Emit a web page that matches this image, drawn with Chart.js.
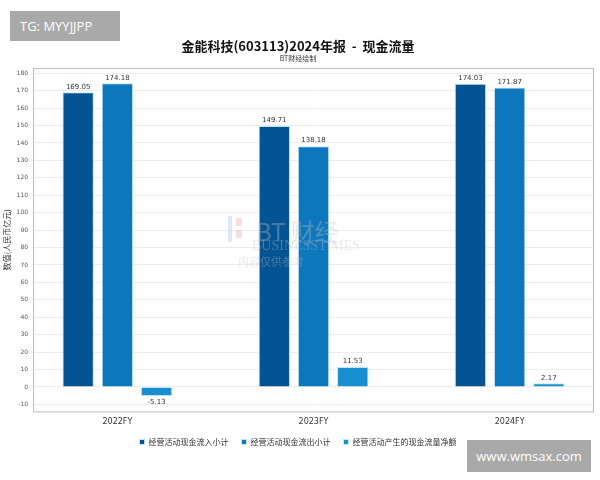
<!DOCTYPE html>
<html>
<head>
<meta charset="utf-8">
<script src="https://cdn.jsdelivr.net/npm/chart.js@4.4.1/dist/chart.umd.min.js"></script>
<style>
  html, body { margin: 0; padding: 0; background: #fff; }
  #wrap { position: relative; width: 600px; height: 480px; }
  .tag { position: absolute; background: #a9a9a9; color: #fff; font-family: "Open Sans", sans-serif; }
  #tg { left: 10px; top: 11px; width: 110px; height: 30px; font-size: 13px; line-height: 30px; padding-left: 10px; box-sizing: border-box; }
  #site { left: 467px; top: 440px; width: 124px; height: 32px; font-size: 13px; line-height: 32px; text-align: center; }
</style>
</head>
<body>
<div id="wrap">
  <canvas id="cashChart" width="600" height="480"></canvas>
  <div id="tg" class="tag">TG: MYYJJPP</div>
  <div id="site" class="tag">www.wmsax.com</div>
</div>
<script>
const years = ['2022FY', '2023FY', '2024FY'];
const inflow = [169.05, 149.71, 174.03];
const outflow = [174.18, 138.18, 171.87];
const netFlow = [-5.13, 11.53, 2.17];
const seriesNames = ['经营活动现金流入小计', '经营活动现金流出小计', '经营活动产生的现金流量净额'];
const yTicks = [-10, 0, 10, 20, 30, 40, 50, 60, 70, 80, 90, 100, 110, 120, 130, 140, 150, 160, 170, 180];

// x is a linear index axis so the groups sit where they do in the original
const toPoints = (arr) => arr.map((v, i) => ({ x: i, y: v }));

const ctx = document.getElementById('cashChart').getContext('2d');

// value labels above (or below) each bar
const valueLabels = {
  id: 'valueLabels',
  afterDatasetsDraw(chart) {
    const c = chart.ctx;
    c.save();
    c.font = '7px "DejaVu Sans", sans-serif';
    c.fillStyle = '#333';
    c.textAlign = 'center';
    chart.data.datasets.forEach((ds, i) => {
      chart.getDatasetMeta(i).data.forEach((bar, j) => {
        const v = ds.data[j].y;
        if (v < 0) {
          c.textBaseline = 'top';
          c.fillText(v.toFixed(2), bar.x, bar.y + 3);
        } else {
          c.textBaseline = 'bottom';
          c.fillText(v.toFixed(2), bar.x, bar.y - 2);
        }
      });
    });
    c.restore();
  }
};

// border round the plot + faint watermark
const decor = {
  id: 'decor',
  beforeDatasetsDraw(chart) {
    const c = chart.ctx;
    const a = chart.chartArea;
    c.save();
    c.strokeStyle = '#bbb';
    c.lineWidth = 1;
    c.strokeRect(a.left + 0.5, a.top + 0.5, a.right - a.left - 1, a.bottom - a.top);
    c.restore();
  },
  afterDatasetsDraw(chart) {
    const c = chart.ctx;
    c.save();
    c.globalAlpha = 0.35;
    c.fillStyle = '#c4c4c4';
    c.textAlign = 'left';
    c.font = '24px "Noto Sans CJK SC", sans-serif';
    c.fillText('BT 财经', 256, 232);
    c.font = '14px "Liberation Serif", serif';
    c.fillText('BUSINESSTIMES', 252, 246);
    c.font = '11px "Noto Sans CJK SC", sans-serif';
    c.fillText('内容仅供参考', 238, 262);
    c.fillStyle = '#e7a3a8';
    c.fillRect(236, 218, 6, 8);
    c.fillRect(236, 230, 6, 8);
    c.fillStyle = '#9fbfdc';
    c.fillRect(228, 216, 4, 26);
    c.restore();
  }
};

new Chart(ctx, {
  type: 'bar',
  data: {
    datasets: [
      { label: seriesNames[0], data: toPoints(inflow), backgroundColor: '#045494', borderColor: '#bfe6f5', borderWidth: 1 },
      { label: seriesNames[1], data: toPoints(outflow), backgroundColor: '#0d77bd', borderColor: '#bfe6f5', borderWidth: 1 },
      { label: seriesNames[2], data: toPoints(netFlow), backgroundColor: '#1a8fd0', borderColor: '#bfe6f5', borderWidth: 1 }
    ]
  },
  plugins: [decor, valueLabels],
  options: {
    responsive: false,
    animation: false,
    layout: { padding: { left: 2, right: 6, top: 4, bottom: 24 } },
    datasets: { bar: { categoryPercentage: 0.6, barPercentage: 0.8 } },
    plugins: {
      title: {
        display: true,
        text: '金能科技(603113)2024年报  -  现金流量',
        color: '#111',
        font: { family: '"Noto Sans CJK SC", sans-serif', size: 13, weight: 'bold' },
        padding: { top: 34, bottom: 1 }
      },
      subtitle: {
        display: true,
        text: 'BT财经绘制',
        color: '#333',
        font: { family: '"Noto Sans CJK SC", sans-serif', size: 7 },
        padding: { bottom: 5 }
      },
      legend: {
        position: 'bottom',
        labels: {
          boxWidth: 5, boxHeight: 5, padding: 13, color: '#333',
          font: { family: '"Noto Sans CJK SC", sans-serif', size: 8 }
        }
      },
      tooltip: { enabled: false }
    },
    scales: {
      x: {
        type: 'linear',
        offset: false,
        min: -0.43,
        max: 2.43,
        afterBuildTicks: (scale) => {
          scale.ticks = years.map((_, i) => ({ value: i }));
        },
        grid: { display: false, offset: false },
        border: { display: false },
        ticks: {
          callback: (val) => years[val],
          color: '#333',
          font: { family: '"DejaVu Sans", sans-serif', size: 8 },
          padding: -2
        }
      },
      y: {
        min: -14,
        max: 183,
        afterBuildTicks: (scale) => {
          scale.ticks = yTicks.map(v => ({ value: v }));
        },
        ticks: { color: '#555', font: { family: '"DejaVu Sans", sans-serif', size: 6 }, padding: 5 },
        grid: { color: '#ececec', drawTicks: false },
        border: { display: false },
        title: {
          display: true,
          text: '数值(人民币亿元)',
          color: '#333',
          font: { family: '"Noto Sans CJK SC", sans-serif', size: 8 },
          padding: 0
        }
      }
    }
  }
});
</script>
</body>
</html>
